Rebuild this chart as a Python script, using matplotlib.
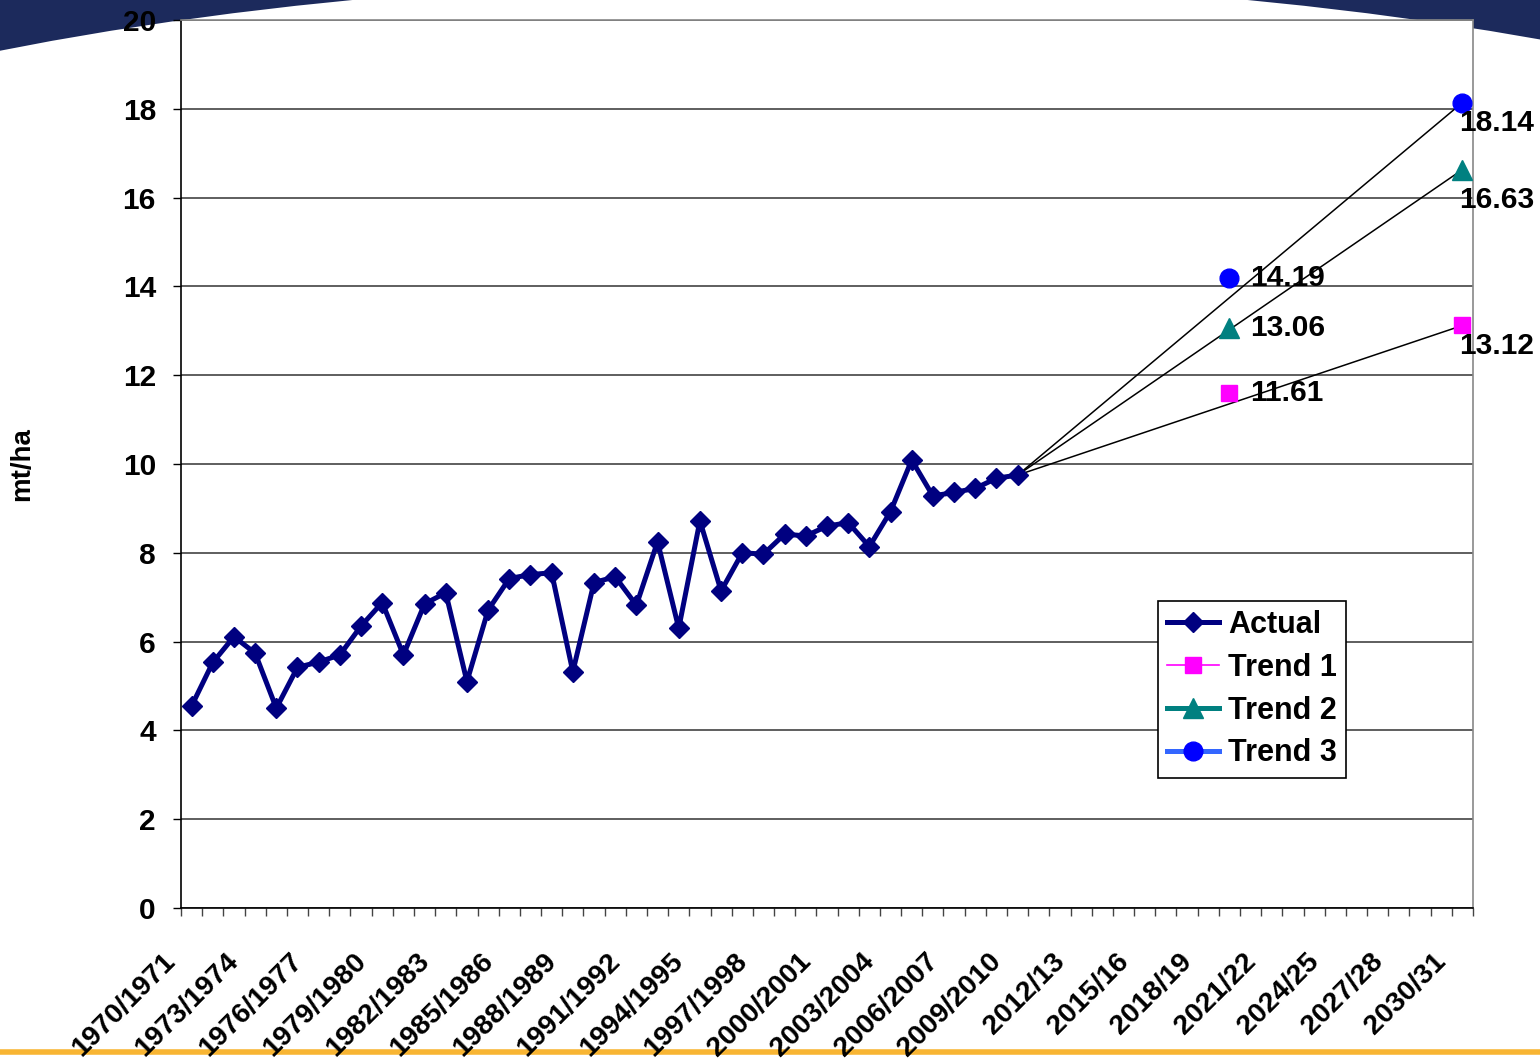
import numpy as np
import matplotlib
matplotlib.use('Agg')
import matplotlib.pyplot as plt
from matplotlib.patches import Ellipse, Rectangle
from matplotlib.lines import Line2D
from matplotlib.transforms import ScaledTranslation

plt.rcParams['font.family'] = ['Liberation Sans', 'DejaVu Sans']
plt.rcParams['font.weight'] = 'bold'

# seasons on the x axis: 1970/1971 .. 2009/2010, then short form up to 2030/31
seasons = [f'{y}/{y + 1}' for y in range(1970, 2010)] + [f'{y}/{str(y + 1)[2:]}' for y in range(2010, 2031)]

# actual yield (mt/ha), 1970/1971 .. 2009/2010
actual = [4.55, 5.53, 6.11, 5.74, 4.50, 5.42, 5.54, 5.70, 6.35, 6.88,
          5.70, 6.85, 7.10, 5.10, 6.71, 7.42, 7.51, 7.55, 5.32, 7.33,
          7.46, 6.82, 8.25, 6.30, 8.72, 7.14, 8.00, 7.97, 8.42, 8.38,
          8.60, 8.68, 8.14, 8.93, 10.09, 9.28, 9.36, 9.45, 9.68, 9.75]

# projections
trend_seasons = ['2019/20', '2030/31']
trend1 = [11.61, 13.12]
trend2 = [13.06, 16.63]
trend3 = [14.19, 18.14]

W, H = 1540, 1059
fig = plt.figure(figsize=(W / 100, H / 100), dpi=100)

# slide background: navy arc on top, yellow rule at the bottom
fig.add_artist(Rectangle((0, 0.85), 1, 0.15, transform=fig.transFigure,
                         facecolor='#1c2a5c', edgecolor='none', zorder=-3))
fig.add_artist(Ellipse((800 / W, 1 - 379 / H), 2800 / W, 800 / H, transform=fig.transFigure,
                       facecolor='white', edgecolor='none', zorder=-2))
fig.add_artist(Line2D([0, 1], [1 - 1052 / H] * 2, transform=fig.transFigure,
                      color='#f8b533', lw=4, zorder=-1))

ax = fig.add_axes([181 / W, 1 - 908 / H, 1292 / W, 888 / H])

x = np.arange(len(seasons))
ax.plot(x[:len(actual)], actual, color='#000080', lw=3.6, marker='D', ms=10,
        label='Actual', zorder=5)

# black trend lines from the last actual value to the 2030/31 projections
last = len(actual) - 1
end = seasons.index(trend_seasons[-1])
for vals in (trend1, trend2, trend3):
    ax.plot([last, end], [actual[-1], vals[-1]], color='black', lw=1.1, zorder=4)

styles = [
    (trend1, 'Trend 1', '#ff00ff', '#ff00ff', 's', 11, 1.2, -14.5),
    (trend2, 'Trend 2', '#008080', '#008080', '^', 15, 3.6, -22),
    (trend3, 'Trend 3', '#3366ff', '#0000ff', 'o', 13.5, 3.6, -14.5),
]
idx = [seasons.index(s) for s in trend_seasons]
for vals, name, lcol, mcol, mk, ms, lw, dy_end in styles:
    y = np.full(len(seasons), np.nan)
    y[idx] = vals
    ax.plot(x, y, color=lcol, lw=lw, marker=mk, ms=ms, mfc=mcol, mec=mcol,
            label=name, zorder=6)
    for i, v in zip(idx, vals):
        dx, dy = (15, 0) if i != end else (-2.5, dy_end)
        ax.annotate(f'{v:.2f}', (i, v), xytext=(dx, dy), textcoords='offset points',
                    ha='left', va='center', fontsize=21.5, fontweight='bold',
                    annotation_clip=False, zorder=7)

ax.set_xlim(-0.5, len(seasons) - 0.5)
ax.set_ylim(0, 20)
ax.set_yticks(np.arange(0, 21, 2))
ax.yaxis.grid(True, color='#333333', lw=1.1)
ax.set_axisbelow(True)

ax.set_xticks(x[::3])
ax.set_xticklabels(seasons[::3], rotation=45, ha='right', va='top')
ax.set_xticks(np.arange(-0.5, len(seasons), 1), minor=True)
ax.tick_params(axis='x', which='major', length=0, pad=29, labelsize=20.5)
ax.tick_params(axis='x', which='minor', length=6, width=1, color='#444444')
ax.tick_params(axis='y', length=6, width=1, pad=12, labelsize=21.5)

# nudge the slanted season labels a bit to the left, as in the original
shift = ScaledTranslation(-11 / 100, 0, fig.dpi_scale_trans)
for lab in ax.get_xticklabels():
    lab.set_transform(lab.get_transform() + shift)

for s in ('top', 'right'):
    ax.spines[s].set_color('#888888')
for s in ('left', 'bottom'):
    ax.spines[s].set_color('black')
for s in ax.spines.values():
    s.set_linewidth(1.2)

ax.set_ylabel('mt/ha', fontsize=20, fontweight='bold')
ax.yaxis.set_label_coords(-0.113, 0.5)

leg = ax.legend(loc='upper left', bbox_to_anchor=(0.756, 0.346), fontsize=22,
                frameon=True, fancybox=False, framealpha=1, edgecolor='black',
                handlelength=1.7, labelspacing=0.42, borderpad=0.3,
                handletextpad=0.3, borderaxespad=0)
leg.get_frame().set_linewidth(1.2)

fig.savefig('out.png', dpi=100)
